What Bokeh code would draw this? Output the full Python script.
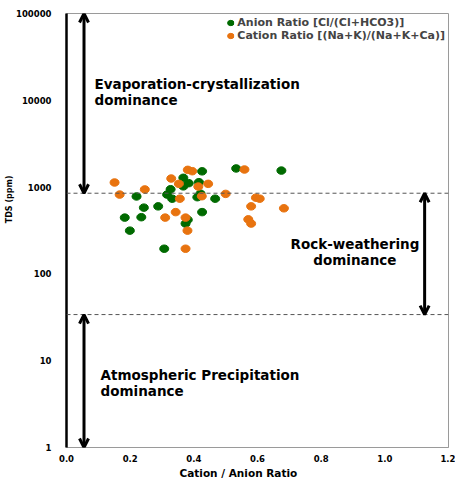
import math
from bokeh.plotting import figure
from bokeh.models import Span, Arrow, OpenHead, Label, FixedTicker, NumeralTickFormatter, Title
from bokeh.embed import file_html
from bokeh.resources import INLINE

# ---- data ----
anion_ratio = [0.220, 0.243, 0.183, 0.235, 0.199, 0.288, 0.307, 0.316, 0.327, 0.332, 0.367, 0.367,
               0.384, 0.416, 0.426, 0.421, 0.411, 0.426, 0.381, 0.374, 0.467, 0.533, 0.675]
anion_tds = [780, 580, 445, 450, 315, 600, 195, 820, 945, 735, 1280, 1020,
             1110, 1140, 1520, 840, 765, 515, 420, 380, 735, 1640, 1550]

cation_ratio = [0.151, 0.167, 0.246, 0.329, 0.353, 0.381, 0.395, 0.414, 0.445, 0.356, 0.425, 0.343,
                0.310, 0.374, 0.380, 0.374, 0.500, 0.559, 0.595, 0.607, 0.580, 0.571, 0.580, 0.683]
cation_tds = [1130, 820, 940, 1255, 1090, 1580, 1525, 1015, 1090, 735, 785, 515,
              445, 445, 315, 195, 835, 1595, 755, 735, 600, 425, 380, 570]

x_ticks = [0.0, 0.2, 0.4, 0.6, 0.8, 1.0, 1.2]
y_ticks = [1, 10, 100, 1000, 10000, 100000]
upper_boundary_tds = 850
lower_boundary_tds = 34

GREEN = "#006a00"
ORANGE = "#e8730f"
FONT = "DejaVu Sans"

p = figure(width=455, height=478, x_range=(0, 1.2), y_range=(1, 100000), y_axis_type="log",
           output_backend="svg", toolbar_location=None,
           min_border_left=66, min_border_right=7, min_border_top=13, min_border_bottom=31)
p.xgrid.visible = False
p.ygrid.visible = False
p.outline_line_color = "#9a9a9a"
p.outline_line_width = 1
p.background_fill_color = "white"
p.border_fill_color = "white"

# axes
p.xaxis.ticker = FixedTicker(ticks=x_ticks)
p.xaxis.formatter = NumeralTickFormatter(format="0.0")
p.yaxis.ticker = FixedTicker(ticks=y_ticks, minor_ticks=[])
p.yaxis.formatter = NumeralTickFormatter(format="0")
for ax in (p.xaxis, p.yaxis):
    ax.major_tick_line_color = None
    ax.minor_tick_line_color = None
    ax.major_label_text_font = FONT
    ax.major_label_text_font_style = "bold"
    ax.major_label_text_font_size = "8.5px"
    ax.major_label_text_color = "black"
p.yaxis.axis_line_color = "black"
p.yaxis.axis_line_width = 2.5
p.yaxis.major_label_standoff = 9
p.xaxis.axis_line_color = "#9a9a9a"
p.xaxis.axis_line_width = 1
p.xaxis.major_label_standoff = 1

# axis titles
p.add_layout(Title(text="Cation / Anion Ratio", align="left", offset=113, standoff=0,
                   text_font=FONT, text_font_style="bold", text_font_size="10.5px",
                   text_color="black"), "below")
p.add_layout(Title(text="TDS (ppm)", align="right", offset=162, standoff=0,
                   text_font=FONT, text_font_style="bold", text_font_size="8px",
                   text_color="black"), "left")

# boundary lines
for v in (upper_boundary_tds, lower_boundary_tds):
    p.add_layout(Span(location=v, dimension="width", line_color="#555555",
                      line_width=1, line_dash="4 3"))

# arrows
arrow_x_left = 0.055
arrow_x_right = 1.125
for xs, y0, y1 in [(arrow_x_left, upper_boundary_tds, 100000),
                   (arrow_x_left, 1, lower_boundary_tds),
                   (arrow_x_right, lower_boundary_tds, upper_boundary_tds)]:
    p.add_layout(Arrow(x_start=xs, y_start=y0, x_end=xs, y_end=y1, line_width=3, line_color="black",
                       start=OpenHead(size=9, line_width=3, line_color="black"),
                       end=OpenHead(size=9, line_width=3, line_color="black")))

# points
p.ellipse(anion_ratio, anion_tds, width=9, height=7.5, width_units="screen", height_units="screen",
          fill_color=GREEN, line_color=GREEN, legend_label="Anion Ratio [Cl/(Cl+HCO3)]")
p.ellipse(cation_ratio, cation_tds, width=9, height=7.5, width_units="screen", height_units="screen",
          fill_color=ORANGE, line_color=ORANGE, legend_label="Cation Ratio [(Na+K)/(Na+K+Ca)]")

lg = p.legend[0]
lg.location = "top_right"
lg.border_line_color = None
lg.background_fill_alpha = 0
lg.margin = 3
lg.padding = 2
lg.spacing = 0
lg.label_text_font = FONT
lg.label_text_font_style = "bold"
lg.label_text_font_size = "11px"
lg.label_height = 9
lg.glyph_height = 9
lg.glyph_width = 8
lg.label_standoff = 3

# region annotations
def ann(text, x, y, align):
    p.add_layout(Label(x=x, y=y, text=text, text_align=align, text_baseline="middle",
                       text_font=FONT, text_font_style="bold", text_font_size="13.5px",
                       text_line_height=1.0, text_color="black"))

ann("Evaporation-crystallization\ndominance", 0.088, 12600, "left")
ann("Rock-weathering\ndominance", 0.906, 179, "center")
ann("Atmospheric Precipitation\ndominance", 0.107, 5.6, "left")

open("out.html", "w").write(file_html(p, INLINE))
